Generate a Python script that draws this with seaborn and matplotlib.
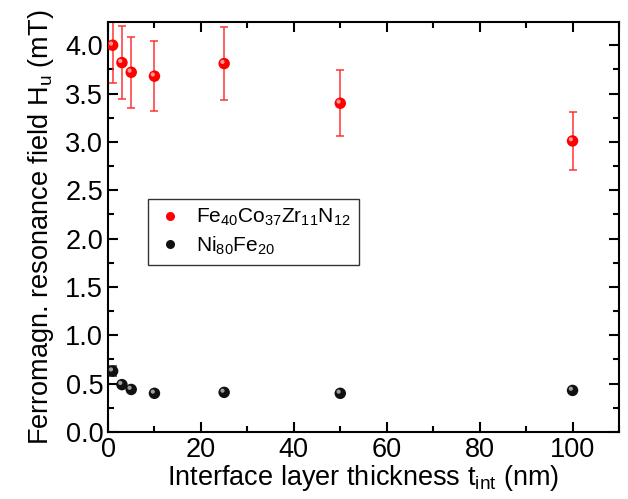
import numpy as np
import pandas as pd
import matplotlib
matplotlib.use("Agg")
import matplotlib.pyplot as plt
import matplotlib.transforms as mtransforms
from matplotlib.ticker import MultipleLocator
from matplotlib.lines import Line2D
import seaborn as sns

# Data
thickness = [1, 3, 5, 10, 25, 50, 100]
fecozrn_hu = [4.00, 3.82, 3.72, 3.68, 3.81, 3.40, 3.01]
fecozrn_err = [0.39, 0.38, 0.37, 0.36, 0.38, 0.34, 0.30]
nife_hu = [0.63, 0.49, 0.44, 0.40, 0.41, 0.40, 0.43]
nife_err = [0.05, 0.02, 0.02, 0.02, 0.02, 0.02, 0.02]
series_labels = ["Fe$_{40}$Co$_{37}$Zr$_{11}$N$_{12}$", "Ni$_{80}$Fe$_{20}$"]
x_ticks = [0, 20, 40, 60, 80, 100]
y_ticks = [0.0, 0.5, 1.0, 1.5, 2.0, 2.5, 3.0, 3.5, 4.0]

sns.set_style("ticks")
plt.rcParams['font.family'] = ['Liberation Sans', 'DejaVu Sans']
plt.rcParams['mathtext.default'] = 'regular'
for k in ['text.color', 'axes.labelcolor', 'xtick.color', 'ytick.color', 'axes.edgecolor']:
    plt.rcParams[k] = 'black'

df = pd.DataFrame({
    "t": thickness * 2,
    "Hu": fecozrn_hu + nife_hu,
    "err": fecozrn_err + nife_err,
    "series": [series_labels[0]] * len(thickness) + [series_labels[1]] * len(thickness),
})

fig = plt.figure(figsize=(6.28, 4.99), dpi=100)
ax = fig.add_axes([108/628, 1 - 432/499, (619-108)/628, (432-22)/499])

colors = {series_labels[0]: "#ff0000", series_labels[1]: "#111111"}
ecolors = {series_labels[0]: "#ff2a2a", series_labels[1]: "#222222"}

for s in series_labels:
    d = df[df.series == s]
    ax.errorbar(d.t, d.Hu, yerr=d.err, fmt="none", ecolor=ecolors[s],
                elinewidth=1.3, capsize=2.8, capthick=1.3, alpha=0.8, zorder=2)

sns.scatterplot(data=df, x="t", y="Hu", hue="series", palette=colors,
                s=68, edgecolor="none", ax=ax, zorder=3, legend=False)

# sphere highlight
hl = mtransforms.offset_copy(ax.transData, fig=fig, x=-1.2, y=1.2, units="points")
ax.scatter(df.t, df.Hu, s=9, color="white", alpha=0.6, edgecolor="none",
           transform=hl, zorder=4)

handles = [Line2D([], [], linestyle="none", marker="o", markersize=6.5,
                  markerfacecolor=colors[s], markeredgecolor="none") for s in series_labels]
leg = ax.legend(handles, series_labels, loc="lower left",
                bbox_to_anchor=(0.078, 0.407), fontsize=15, frameon=True,
                fancybox=False, edgecolor="black", handletextpad=0.6,
                borderpad=0.4, labelspacing=0.3, handlelength=1.3,
                borderaxespad=0)
leg.get_frame().set_linewidth(1.0)

ax.set_xlim(0, 110)
ax.set_ylim(0, 4.24)
ax.xaxis.set_minor_locator(MultipleLocator(10))
ax.yaxis.set_minor_locator(MultipleLocator(0.25))
ax.tick_params(which="both", direction="in", top=True, right=True, width=1.5,
               labelsize=19.5, color="black")
ax.tick_params(which="major", length=7)
ax.tick_params(which="minor", length=4)
ax.set_xticks(x_ticks)
ax.set_xticklabels([str(v) for v in x_ticks])
ax.set_yticks(y_ticks)
ax.set_yticklabels([f"{v:.1f}" for v in y_ticks])
ax.set_xlabel("Interface layer thickness t$_{int}$ (nm)", fontsize=19.5, labelpad=0)
ax.set_ylabel("Ferromagn. resonance field H$_u$ (mT)", fontsize=19.5, labelpad=7)
for sp in ax.spines.values():
    sp.set_color("black")
    sp.set_linewidth(1.5)

fig.savefig("out.png", dpi=100)
